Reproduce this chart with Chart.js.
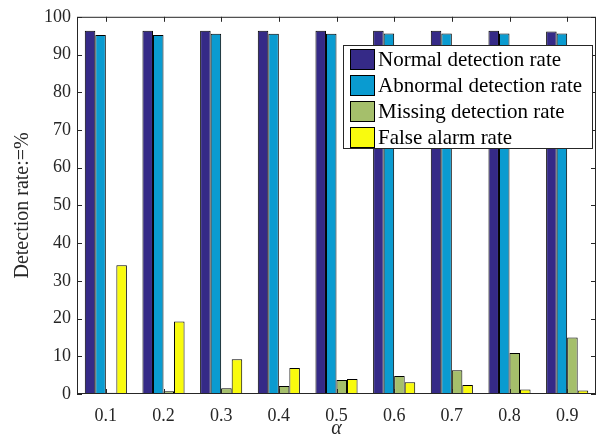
<!DOCTYPE html>
<html>
<head>
<meta charset="utf-8">
<script src="https://cdn.jsdelivr.net/npm/chart.js@4"></script>
<style>
  html, body { margin: 0; padding: 0; background: #fff; }
  #wrap { width: 603px; height: 441px; }
</style>
</head>
<body>
<div id="wrap"><canvas id="grafico" width="603" height="441"></canvas></div>
<script>
// dados
const alphas = ["0.1", "0.2", "0.3", "0.4", "0.5", "0.6", "0.7", "0.8", "0.9"];
const normalRate = [96.3, 96.3, 96.3, 96.3, 96.3, 96.3, 96.3, 96.3, 96.1];
const abnormalRate = [95.2, 95.2, 95.5, 95.5, 95.5, 95.6, 95.6, 95.6, 95.6];
const missingRate = [0.3, 0.7, 1.5, 2.1, 3.7, 4.8, 6.3, 10.9, 15.0];
const falseAlarmRate = [34.1, 19.2, 9.2, 6.9, 4.0, 3.1, 2.4, 1.2, 0.9];
const yTicks = [0, 10, 20, 30, 40, 50, 60, 70, 80, 90, 100];

const fonte = "'Liberation Serif', 'Times New Roman', serif";
const corEixo = "#262626";

// moldura + ticks para dentro (estilo MATLAB)
const moldura = {
  id: "moldura",
  afterDraw(chart) {
    const ctx = chart.ctx;
    const a = chart.chartArea;
    const x = chart.scales.x;
    const y = chart.scales.y;
    ctx.save();
    ctx.strokeStyle = corEixo;
    ctx.lineWidth = 1;
    ctx.strokeRect(a.left + 0.5, a.top + 0.5, a.right - a.left - 1, a.bottom - a.top - 1);
    ctx.beginPath();
    const t = 5;
    alphas.forEach((_, i) => {
      const px = Math.round(x.getPixelForValue(i)) + 0.5;
      ctx.moveTo(px, a.bottom); ctx.lineTo(px, a.bottom - t);
      ctx.moveTo(px, a.top); ctx.lineTo(px, a.top + t);
    });
    yTicks.forEach((v) => {
      const py = Math.round(y.getPixelForValue(v)) + 0.5;
      ctx.moveTo(a.left, py); ctx.lineTo(a.left + t, py);
      ctx.moveTo(a.right, py); ctx.lineTo(a.right - t, py);
    });
    ctx.stroke();

    // legenda dentro do gráfico
    const lx = 343, ly = 45, lw = 249, lh = 103;
    ctx.fillStyle = "#fff";
    ctx.fillRect(lx, ly, lw, lh);
    ctx.strokeStyle = corEixo;
    ctx.strokeRect(lx + 0.5, ly + 0.5, lw, lh);
    ctx.font = "21px " + fonte;
    ctx.textBaseline = "middle";
    chart.data.datasets.forEach((ds, i) => {
      const cy = ly + 14 + i * 26;
      ctx.fillStyle = ds.backgroundColor;
      ctx.fillRect(lx + 7, cy - 10, 24, 20);
      ctx.strokeStyle = "#000";
      ctx.strokeRect(lx + 7.5, cy - 9.5, 24, 20);
      ctx.fillStyle = "#000";
      ctx.fillText(ds.label, lx + 35, cy + 1);
    });
    ctx.restore();
  },
};

const grafico = new Chart(document.getElementById("grafico"), {
  type: "bar",
  data: {
    labels: alphas,
    datasets: [
      { label: "Normal detection rate", data: normalRate, backgroundColor: "#352a87" },
      { label: "Abnormal detection rate", data: abnormalRate, backgroundColor: "#0a9bd0" },
      { label: "Missing detection rate", data: missingRate, backgroundColor: "#a5bf6b" },
      { label: "False alarm rate", data: falseAlarmRate, backgroundColor: "#f9fb0e" },
    ],
  },
  options: {
    responsive: false,
    animation: false,
    devicePixelRatio: 1,
    datasets: {
      bar: {
        borderColor: "#000",
        borderWidth: 1,
        barPercentage: 1,
        categoryPercentage: 0.73,
      },
    },
    layout: { padding: { left: 0, right: 7, top: 16, bottom: 0 } },
    plugins: {
      legend: { display: false },
      tooltip: { enabled: false },
    },
    scales: {
      x: {
        grid: { display: false, drawTicks: false },
        border: { display: false },
        ticks: { color: corEixo, font: { family: fonte, size: 18 }, padding: 11, maxRotation: 0 },
        title: {
          display: true,
          text: "α",
          color: corEixo,
          font: { family: fonte, size: 20, style: "italic" },
          padding: { top: -1, bottom: 0 },
        },
        afterFit(scale) { scale.height = 47; },
      },
      y: {
        min: 0,
        max: 100,
        grid: { display: false, drawTicks: false },
        border: { display: false },
        ticks: { stepSize: 10, color: corEixo, font: { family: fonte, size: 18 }, padding: 6 },
        title: {
          display: true,
          text: "Detection rate:=%",
          color: corEixo,
          font: { family: fonte, size: 20 },
          padding: { top: 11, bottom: 0 },
        },
        afterFit(scale) { scale.width = 77; },
      },
    },
  },
  plugins: [moldura],
});
</script>
</body>
</html>
